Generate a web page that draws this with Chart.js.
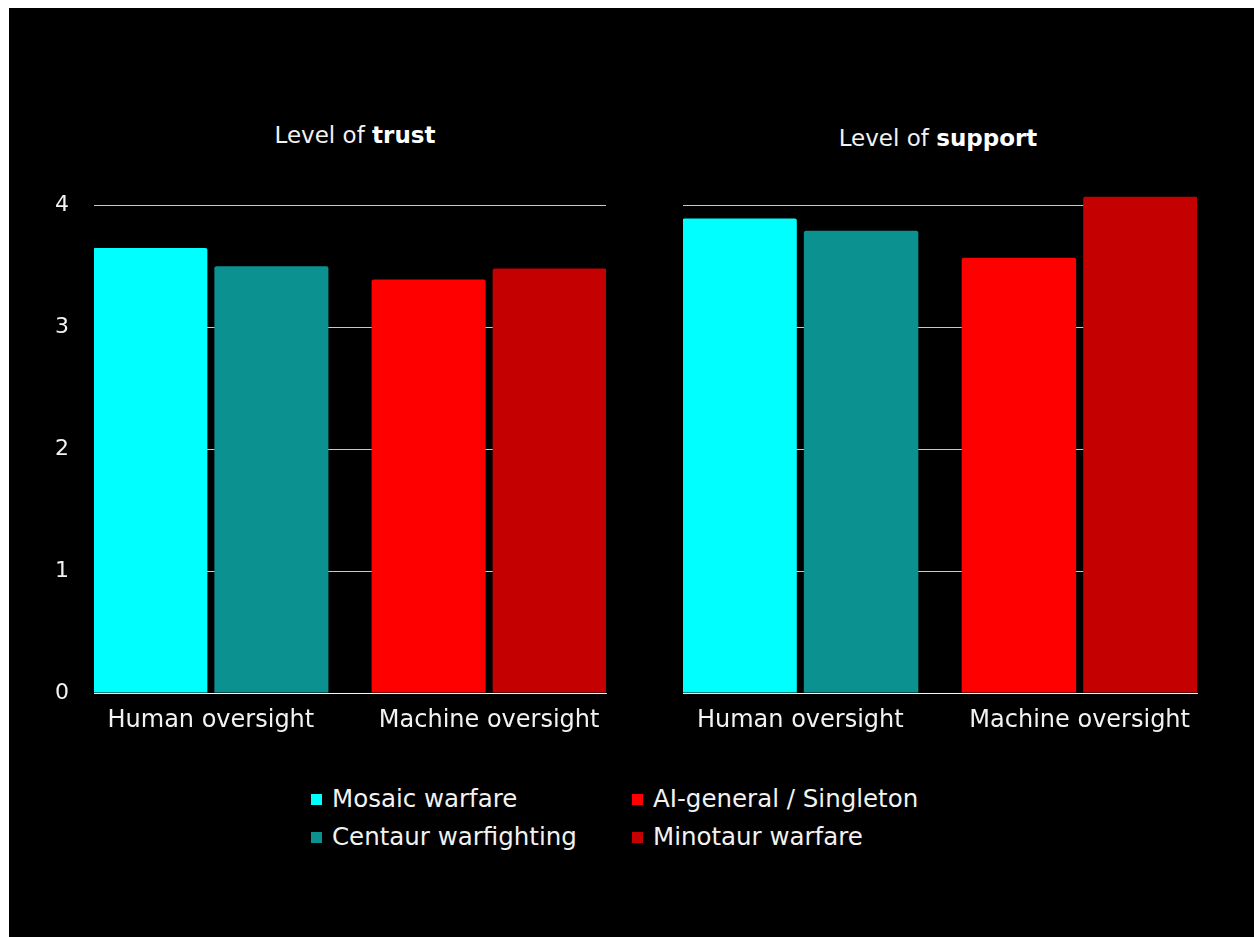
<!DOCTYPE html>
<html>
<head>
<meta charset="utf-8">
<script src="https://cdn.jsdelivr.net/npm/chart.js@4/dist/chart.umd.min.js"></script>
<style>
  body { margin: 0; background: #fff; font-family: "DejaVu Sans", sans-serif; }
  #panel { position: absolute; left: 9px; top: 8px; width: 1245px; height: 929px; background: #000; }
  canvas { position: absolute; }
  .title { position: absolute; color: #f2f2f2; font-size: 23px; line-height: 27px; text-align: center; width: 400px; white-space: nowrap; }
  .title b { font-weight: bold; color: #fff; }
  .legend-item { position: absolute; color: #f2f2f2; font-size: 24.5px; white-space: nowrap; line-height: 28px; }
  .legend-item span.box { display: inline-block; width: 11px; height: 11px; margin-right: 10px; vertical-align: 2px; }
</style>
</head>
<body>
<div id="panel"></div>
<div class="title" style="left:155px; top:122px;">Level of <b>trust</b></div>
<div class="title" style="left:738px; top:125px;">Level of <b>support</b></div>
<canvas id="trustChart" width="600" height="560" style="left:30px; top:180px;"></canvas>
<canvas id="supportChart" width="600" height="560" style="left:640px; top:180px;"></canvas>
<div id="legend"></div>

<script>
// Chart data
const categories = ['Human oversight', 'Machine oversight'];
const seriesNames = ['Mosaic warfare', 'Centaur warfighting', 'AI-general / Singleton', 'Minotaur warfare'];
const seriesGroup = [0, 0, 1, 1]; // which category each series belongs to
const seriesColors = ['#00ffff', '#0a9190', '#ff0000', '#c40000'];
const trustValues = [3.65, 3.50, 3.39, 3.48];
const supportValues = [3.89, 3.79, 3.57, 4.07];
const yTicks = [0, 1, 2, 3, 4];

const FONT = '"DejaVu Sans", sans-serif';
// groups sit close to the plot edges, so the x range runs a bit past each category
const X_INSET = 0.42;

function buildDatasets(values) {
  return seriesNames.map((name, i) => ({
    label: name,
    data: categories.map((c, ci) => ci === seriesGroup[i] ? values[i] : null),
    backgroundColor: seriesColors[i],
    borderRadius: { topLeft: 2, topRight: 2 },
    borderSkipped: 'bottom',
    categoryPercentage: 0.87,
    barPercentage: 0.942
  }));
}

function makeChart(id, values, showYTicks, axisWidth, padRight) {
  const ctx = document.getElementById(id).getContext('2d');
  return new Chart(ctx, {
    type: 'bar',
    data: {
      labels: categories,
      datasets: buildDatasets(values)
    },
    options: {
      responsive: false,
      animation: false,
      skipNull: true,
      layout: { padding: { top: 13, right: padRight, left: 0, bottom: 0 } },
      plugins: {
        legend: { display: false },
        tooltip: { enabled: false }
      },
      scales: {
        x: {
          z: 1,
          offset: false,
          grid: { display: false },
          border: { display: true, color: 'rgba(255,255,255,0.85)', width: 1 },
          ticks: { color: '#f2f2f2', font: { family: FONT, size: 24 }, padding: 5, maxRotation: 0 },
          afterBuildTicks: scale => {
            scale.ticks = categories.map((c, i) => ({ value: i }));
            scale._startValue = -X_INSET;
            scale._valueRange = categories.length - 1 + 2 * X_INSET;
          },
          afterFit: scale => { scale.height = 47; }
        },
        y: {
          min: 0,
          max: 4.1,
          grid: { color: '#c8c8c8', lineWidth: 1, drawTicks: false },
          border: { display: false },
          ticks: {
            display: showYTicks,
            stepSize: 1,
            color: '#f2f2f2',
            padding: 25,
            font: { family: FONT, size: 22 }
          },
          afterBuildTicks: scale => {
            scale.ticks = yTicks.map(v => ({ value: v }));
          },
          afterFit: scale => {
            scale.width = axisWidth;
            scale.paddingTop = 0;
            scale.paddingBottom = 0;
          }
        }
      }
    }
  });
}

makeChart('trustChart', trustValues, true, 64, 24);
makeChart('supportChart', supportValues, false, 43, 43);

// Shared legend: one column per category group
const legend = document.getElementById('legend');
const legendCols = [311, 632];
const legendRows = [785, 823];
seriesNames.forEach((name, i) => {
  const item = document.createElement('div');
  item.className = 'legend-item';
  item.style.left = legendCols[seriesGroup[i]] + 'px';
  item.style.top = legendRows[i % 2] + 'px';
  item.innerHTML = '<span class="box" style="background:' + seriesColors[i] + '"></span>' + name;
  legend.appendChild(item);
});
</script>
</body>
</html>
